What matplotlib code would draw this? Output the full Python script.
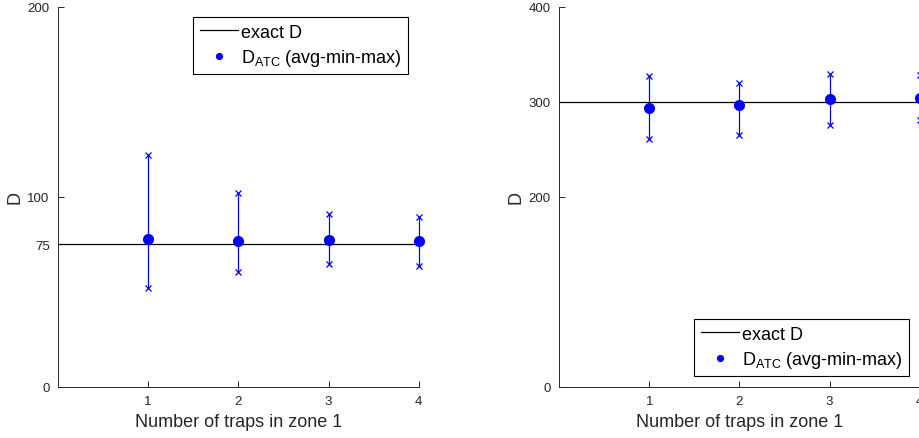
import numpy as np
import matplotlib.pyplot as plt

plt.rcParams['font.family'] = ['Liberation Sans', 'DejaVu Sans']
plt.rcParams['mathtext.fontset'] = 'custom'
plt.rcParams['mathtext.rm'] = 'Liberation Sans'

# number of traps in zone 1
traps = [1, 2, 3, 4]

# left panel (exact D = 75)
exact_left = 75
avg_left = [77.8, 76.8, 77.5, 76.8]
min_left = [52.2, 60.6, 64.6, 63.8]
max_left = [122.2, 102.0, 91.0, 89.6]
yticks_left = [0, 75, 100, 200]

# right panel (exact D = 300)
exact_right = 300
avg_right = [294.0, 296.8, 303.5, 303.9]
min_right = [261.0, 264.9, 275.8, 281.3]
max_right = [327.0, 320.3, 329.5, 328.5]
yticks_right = [0, 200, 300, 400]

blue = '#0000ff'
gray = '#262626'

fig = plt.figure(figsize=(9.19, 4.39), dpi=100)
ax1 = fig.add_axes([0.0631, 0.1169, 0.3925, 0.8649])
ax2 = fig.add_axes([0.6083, 0.1169, 0.3925, 0.8649])


def panel(ax, exact, avg, lo, hi, yticks, ymax, legend_loc, legend_anchor):
    ax.axhline(exact, color='black', lw=0.9, label='exact D')
    ax.vlines(traps, lo, hi, color=blue, lw=0.9, clip_on=False)
    ax.plot(traps, lo, 'x', color=blue, ms=4.5, mew=0.9, clip_on=False)
    ax.plot(traps, hi, 'x', color=blue, ms=4.5, mew=0.9, clip_on=False)
    ax.plot(traps, avg, 'o', color=blue, ms=7, ls='none', clip_on=False,
            label=r'D$_{\mathregular{ATC}}$ (avg-min-max)')
    ax.set_xlim(0, 4)
    ax.set_ylim(0, ymax)
    ax.set_xticks(traps)
    ax.set_yticks(yticks)
    ax.set_xlabel('Number of traps in zone 1', fontsize=13, color=gray,
                  labelpad=4)
    ax.set_ylabel('D', fontsize=13, color=gray, labelpad=3)
    ax.tick_params(direction='in', length=4, width=0.7, colors=gray,
                   labelsize=9.5, pad=6)
    for s in ['top', 'right']:
        ax.spines[s].set_visible(False)
    for s in ['left', 'bottom']:
        ax.spines[s].set_color(gray)
        ax.spines[s].set_linewidth(0.7)
    leg = ax.legend(loc=legend_loc, bbox_to_anchor=legend_anchor, fontsize=13,
                    fancybox=False, framealpha=1, edgecolor='black',
                    handlelength=2.1, handletextpad=0.2, markerscale=0.6,
                    borderpad=0.35, labelspacing=0.35, borderaxespad=0)
    leg.get_frame().set_linewidth(0.8)


panel(ax1, exact_left, avg_left, min_left, max_left, yticks_left, 200,
      'upper right', (0.971, 0.973))
panel(ax2, exact_right, avg_right, min_right, max_right, yticks_right, 400,
      'lower right', (0.971, 0.027))

fig.savefig('out.png', dpi=100)
